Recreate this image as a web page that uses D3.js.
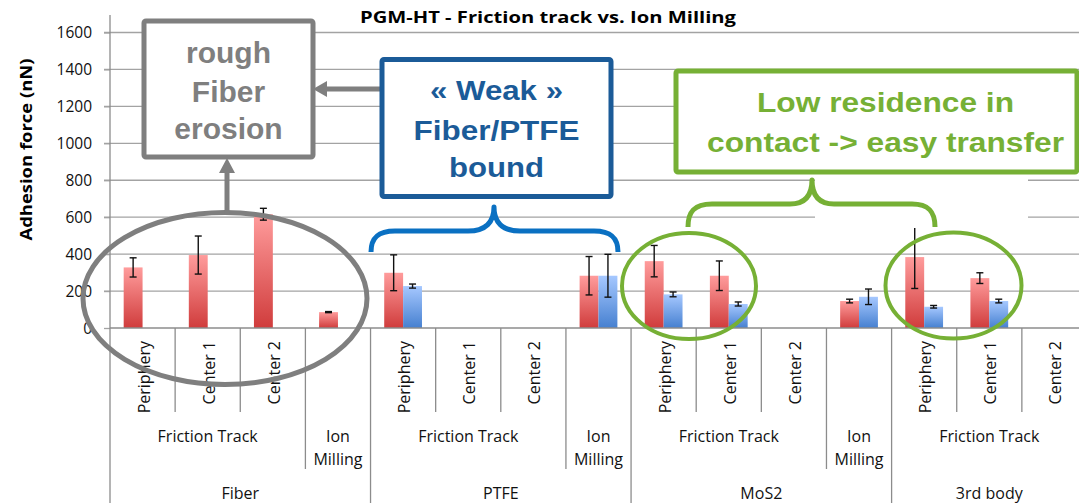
<!DOCTYPE html>
<html><head><meta charset="utf-8">
<script src="https://cdn.jsdelivr.net/npm/d3@7"></script>
<style>body{margin:0;background:#fff;overflow:hidden}</style>
</head><body><svg id="c" width="1079" height="503"></svg>
<script>
// ---------- data ----------
const material = ["Fiber","Fiber","Fiber","Fiber","PTFE","PTFE","PTFE","PTFE","MoS2","MoS2","MoS2","MoS2","3rd body","3rd body","3rd body"];
const zone = ["Friction Track","Friction Track","Friction Track","Ion Milling",
              "Friction Track","Friction Track","Friction Track","Ion Milling",
              "Friction Track","Friction Track","Friction Track","Ion Milling",
              "Friction Track","Friction Track","Friction Track"];
const position = ["Periphery","Center 1","Center 2","",
                  "Periphery","Center 1","Center 2","",
                  "Periphery","Center 1","Center 2","",
                  "Periphery","Center 1","Center 2"];
const redValues  = [328,395,616,86, 299,null,null,283, 362,283,null,146, 384,270,null];
const redErrors  = [52,103,32,3,    97,null,null,104,  85,80,null,10,    170,29,null];
const blueValues = [null,null,null,null, 227,null,null,283, 182,130,null,169, 115,146,null];
const blueErrors = [null,null,null,null, 11,null,null,116,  13,11,null,42,    7,10,null];
const yTicks = [0,200,400,600,800,1000,1200,1400,1600];
const title = "PGM-HT - Friction track vs. Ion Milling";
const yTitle = "Adhesion force (nN)";

// ---------- setup ----------
const svg = d3.select("#c");
const W = 1079, H = 503;
svg.append("rect").attr("width",W).attr("height",H).attr("fill","#fff");
const defs = svg.append("defs");
function grad(id, top, bot){
  const g = defs.append("linearGradient").attr("id",id).attr("x1",0).attr("y1",0).attr("x2",0).attr("y2",1);
  g.append("stop").attr("offset","0%").attr("stop-color",top);
  g.append("stop").attr("offset","100%").attr("stop-color",bot);
}
grad("gRed","#ff9c9c","#d03c3c");
grad("gBlue","#a6c8ff","#4680d0");

const idx = d3.range(material.length);
const x = d3.scaleBand().domain(idx).range([110,1087]).padding(0);
const bw = x.bandwidth();
const xs = d3.scaleBand().domain(["red","blue"]).range([bw*0.21,bw*0.79]).padding(0);
const y = d3.scaleLinear().domain([0,1600]).range([328,32.5]);

const FONT = "'Open Sans', sans-serif";
const TXT = "#111";

// gridlines
svg.append("g").selectAll("line").data(yTicks.filter(d=>d>0)).join("line")
  .attr("x1",104).attr("x2",W).attr("y1",d=>y(d)).attr("y2",d=>y(d))
  .attr("stroke","#a3a3a3").attr("stroke-width",1.3);

// y axis
const yAxis = d3.axisLeft(y).tickValues(yTicks).tickFormat(d3.format("d")).tickSize(6).tickPadding(12);
const ya = svg.append("g").attr("transform","translate(110,0)").call(yAxis);
ya.select(".domain").remove();
ya.selectAll(".tick line").attr("stroke","#a3a3a3").attr("stroke-width",1.3);
ya.selectAll(".tick text").attr("font-family",FONT).attr("font-size",15.5).attr("fill",TXT).attr("dy","0.34em").attr("x",-18);
svg.append("line").attr("x1",110).attr("x2",110).attr("y1",15).attr("y2",H).attr("stroke","#8c8c8c").attr("stroke-width",1.3);

// bars
const series = [
  {key:"red", vals:redValues, errs:redErrors, fill:"url(#gRed)"},
  {key:"blue", vals:blueValues, errs:blueErrors, fill:"url(#gBlue)"}
];
series.forEach(s=>{
  const data = idx.filter(i=>s.vals[i]!=null).map(i=>({i,v:s.vals[i],e:s.errs[i]}));
  svg.append("g").selectAll("rect").data(data).join("rect")
    .attr("x",d=>x(d.i)+xs(s.key)).attr("width",xs.bandwidth())
    .attr("y",d=>y(d.v)).attr("height",d=>y(0)-y(d.v)).attr("fill",s.fill);
  const eg = svg.append("g").attr("stroke","#111").attr("stroke-width",1.4);
  data.forEach(d=>{
    const cx = x(d.i)+xs(s.key)+xs.bandwidth()/2;
    eg.append("line").attr("x1",cx).attr("x2",cx).attr("y1",y(d.v+d.e)).attr("y2",y(d.v-d.e));
    eg.append("line").attr("x1",cx-3.5).attr("x2",cx+3.5).attr("y1",y(d.v+d.e)).attr("y2",y(d.v+d.e));
    eg.append("line").attr("x1",cx-3.5).attr("x2",cx+3.5).attr("y1",y(d.v-d.e)).attr("y2",y(d.v-d.e));
  });
});

// x axis line
svg.append("line").attr("x1",110).attr("x2",1087).attr("y1",y(0)).attr("y2",y(0)).attr("stroke","#8c8c8c").attr("stroke-width",1.3);

// category separators
const sep = svg.append("g").attr("stroke","#8c8c8c").attr("stroke-width",1.3);
for(let i=1;i<=idx.length;i++){
  let bottom;
  if(i===idx.length || material[i]!==material[i-1]) bottom = H;
  else if(zone[i]!==zone[i-1]) bottom = 469;
  else bottom = 412;
  const xx = (i===idx.length)? x.range()[1] : x(i);
  sep.append("line").attr("x1",xx).attr("x2",xx).attr("y1",y(0)).attr("y2",bottom);
}

// level 1 labels
svg.append("g").selectAll("text").data(idx.filter(i=>position[i])).join("text")
  .attr("transform",i=>`translate(${x(i)+bw/2+1},341) rotate(-90)`)
  .attr("text-anchor","end").attr("dominant-baseline","central")
  .attr("font-family",FONT).attr("font-size",16).attr("fill",TXT)
  .text(i=>position[i]);

// runs helper
function runs(keyFn){
  const out=[]; let start=0;
  for(let i=1;i<=idx.length;i++){
    if(i===idx.length || keyFn(i)!==keyFn(start)){ out.push({start,end:i-1,label:keyFn(start)}); start=i; }
  }
  return out;
}
const zoneRuns = runs(i=>material[i]+"|"+zone[i]).map(r=>({...r,label:zone[r.start]}));
const matRuns = runs(i=>material[i]);
const lg2 = svg.append("g").attr("font-family",FONT).attr("font-size",16).attr("fill",TXT).attr("text-anchor","middle");
zoneRuns.forEach(r=>{
  const cx = (x(r.start)+x(r.end)+bw)/2;
  const lines = (r.end===r.start)? r.label.split(" ") : [r.label];
  lines.forEach((t,k)=> lg2.append("text").attr("x",cx).attr("y",441.5+k*23.5).text(t));
});
const lg3 = svg.append("g").attr("font-family",FONT).attr("font-size",16).attr("fill",TXT).attr("text-anchor","middle");
matRuns.forEach(r=>{
  const cx = (x(r.start)+x(r.end)+bw)/2;
  lg3.append("text").attr("x",cx).attr("y",499).text(r.label);
});

// titles
svg.append("text").attr("x",360).attr("y",23).attr("font-family",FONT).attr("font-weight","bold")
  .attr("font-size",16.5).attr("textLength",376).attr("lengthAdjust","spacingAndGlyphs").attr("fill","#000").text(title);
svg.append("text").attr("transform","translate(25,149.5) rotate(-90)").attr("text-anchor","middle")
  .attr("dominant-baseline","central").attr("font-family",FONT).attr("font-weight","bold")
  .attr("font-size",16.5).attr("textLength",182).attr("lengthAdjust","spacingAndGlyphs").attr("fill","#000").text(yTitle);

// ---------- annotations ----------
const AF = "'Liberation Sans', Arial, sans-serif";
const gray = "#7f7f7f", dblue = "#1b5b98", lblue = "#0a70c2", green = "#76b035";
const an = svg.append("g");
// white mask behind green brace area
an.append("rect").attr("x",815).attr("y",174).attr("width",213).attr("height",54).attr("fill","#fff");

// gray ellipse + arrows + box
an.append("ellipse").attr("cx",225).attr("cy",298.5).attr("rx",142).attr("ry",86).attr("fill","none").attr("stroke",gray).attr("stroke-width",5);
an.append("line").attr("x1",227).attr("x2",227).attr("y1",214).attr("y2",170).attr("stroke",gray).attr("stroke-width",5);
an.append("path").attr("d","M227,158 L235,173 L219,173 Z").attr("fill",gray);
an.append("line").attr("x1",380).attr("x2",322).attr("y1",89).attr("y2",89).attr("stroke",gray).attr("stroke-width",5);
an.append("path").attr("d","M313,89 L327,81 L327,97 Z").attr("fill",gray);
an.append("rect").attr("x",144).attr("y",21).attr("width",169).attr("height",136).attr("rx",2)
  .attr("fill","#fff").attr("stroke",gray).attr("stroke-width",5);
[["rough",63],["Fiber",101.5],["erosion",138.5]].forEach(([t,yy])=>
  an.append("text").attr("x",228.5).attr("y",yy).attr("text-anchor","middle").attr("font-family",AF)
    .attr("font-weight","bold").attr("font-size",30).attr("fill",gray).text(t));

// blue box + brace
an.append("rect").attr("x",382).attr("y",59.5).attr("width",229).attr("height",137).attr("rx",2)
  .attr("fill","#fff").attr("stroke",dblue).attr("stroke-width",5);
[["« Weak »",100,133],["Fiber/PTFE",140,166],["bound",176.5,95]].forEach(([t,yy,L])=>
  an.append("text").attr("x",496.5).attr("y",yy).attr("text-anchor","middle").attr("font-family",AF)
    .attr("font-weight","bold").attr("font-size",27).attr("textLength",L).attr("lengthAdjust","spacingAndGlyphs")
    .attr("fill",dblue).text(t));
an.append("path").attr("d","M371,252 C371,238 378,231 395,231 L468,231 C486,231 494,222 494,207 C494,222 502,231 520,231 L594,231 C611,231 618,238 618,252")
  .attr("fill","none").attr("stroke",lblue).attr("stroke-width",5).attr("stroke-linejoin","round");

// green box + brace + ellipses
an.append("rect").attr("x",676).attr("y",71).attr("width",401).attr("height",101).attr("rx",2)
  .attr("fill","#fff").attr("stroke",green).attr("stroke-width",5);
[["Low residence in",111.5,257],["contact -> easy transfer",151.5,357]].forEach(([t,yy,L])=>
  an.append("text").attr("x",885.5).attr("y",yy).attr("text-anchor","middle").attr("font-family",AF)
    .attr("font-weight","bold").attr("font-size",28).attr("textLength",L).attr("lengthAdjust","spacingAndGlyphs")
    .attr("fill",green).text(t));
an.append("path").attr("d","M688,227 C688,212 694,204 712,204 L790,204 C805,204 812,196 812,180 C812,196 819,204 834,204 L912,204 C929,204 935,212 935,227")
  .attr("fill","none").attr("stroke",green).attr("stroke-width",5).attr("stroke-linejoin","round");
an.append("ellipse").attr("cx",689).attr("cy",286).attr("rx",67).attr("ry",53).attr("fill","none").attr("stroke",green).attr("stroke-width",4);
an.append("ellipse").attr("cx",953.5).attr("cy",285.5).attr("rx",68).attr("ry",53).attr("fill","none").attr("stroke",green).attr("stroke-width",4);
</script></body></html>
